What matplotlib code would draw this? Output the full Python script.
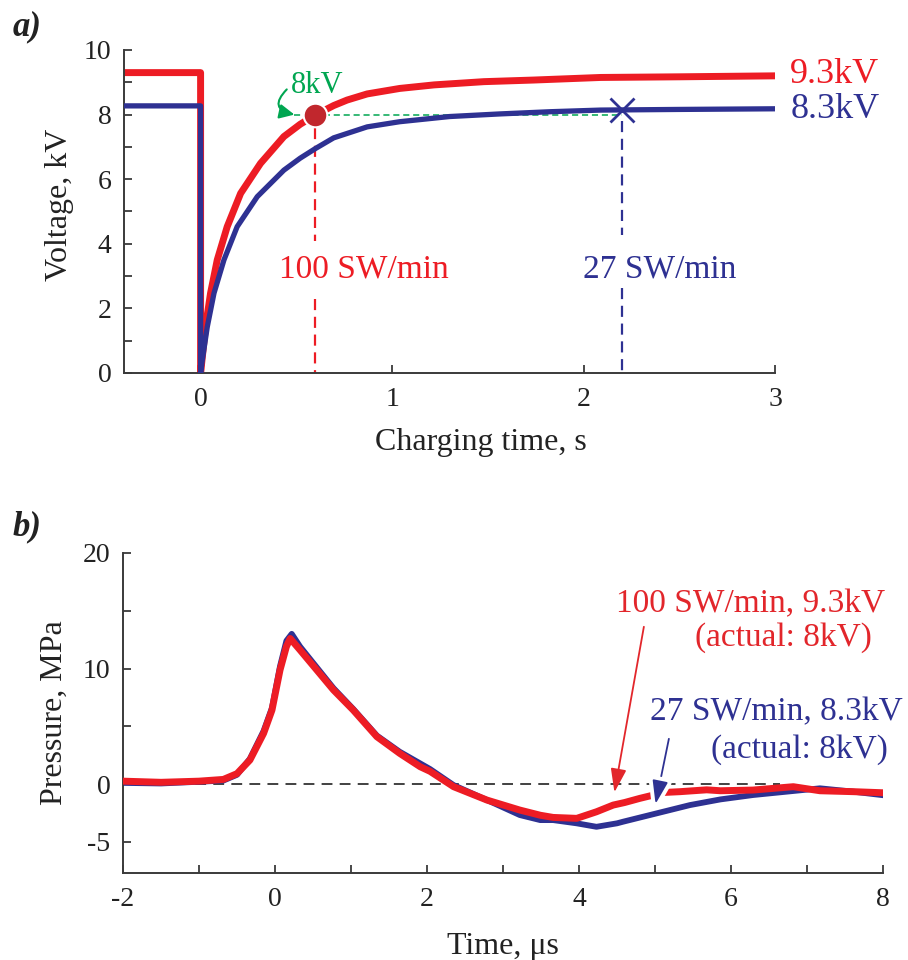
import matplotlib
matplotlib.use("Agg")
import matplotlib.pyplot as plt
import matplotlib.patheffects as pe

plt.rcParams['font.family'] = ['Liberation Serif', 'DejaVu Serif']
plt.rcParams['mathtext.fontset'] = 'stix'

RED = '#ED1C24'
BLUE = '#2E3192'
GREEN = '#00A651'
DARKRED = '#C1272D'
TXTRED = '#E2262B'

# ---------------- Panel a data (charging voltage) ----------------
red_t = [-0.4, 0.0, 0.0, 0.026, 0.052, 0.087, 0.139, 0.209, 0.313, 0.435, 0.52, 0.6, 0.695, 0.765, 0.87,
         1.04, 1.22, 1.48, 1.74, 2.09, 2.5, 3.0]
red_v = [9.3, 9.3, 0.0, 1.43, 2.47, 3.5, 4.53, 5.56, 6.49, 7.32, 7.7, 7.99, 8.28, 8.45, 8.64,
         8.81, 8.92, 9.02, 9.07, 9.15, 9.17, 9.2]
blue_t = [-0.4, 0.0, 0.0, 0.009, 0.035, 0.07, 0.122, 0.191, 0.296, 0.435, 0.52, 0.6, 0.695, 0.87,
          1.04, 1.3, 1.56, 1.83, 2.09, 2.5, 3.0]
blue_v = [8.27, 8.27, 0.0, 0.4, 1.43, 2.47, 3.5, 4.53, 5.46, 6.28, 6.65, 6.95, 7.28, 7.62,
          7.78, 7.94, 8.02, 8.09, 8.14, 8.16, 8.18]
red_mark = (0.6, 8.0)
blue_mark = (2.2, 8.14)
a_xticks = [0, 1, 2, 3]
a_yticks = [0, 2, 4, 6, 8, 10]

# ---------------- Panel b data (pressure) ----------------
pr_t = [-2.0, -1.5, -1.0, -0.68, -0.5, -0.33, -0.15, -0.04, 0.066, 0.15, 0.2, 0.33, 0.55, 0.77, 1.03, 1.34,
        1.64, 1.91, 2.04, 2.35, 2.79, 3.22, 3.49, 3.66, 3.97, 4.23, 4.45, 4.6, 4.8, 4.95, 5.05, 5.33, 5.68,
        5.86, 6.29, 6.82, 7.17, 7.61, 7.98]
pr_v = [0.25, 0.15, 0.25, 0.4, 0.9, 2.08, 4.39, 6.4, 9.87, 11.9, 12.6, 11.6, 9.87, 8.14, 6.4, 4.1,
        2.66, 1.5, 1.1, -0.23, -1.39, -2.25, -2.7, -2.89, -2.97, -2.4, -1.82, -1.6, -1.24, -1.0, -0.75, -0.66, -0.5,
        -0.58, -0.52, -0.23, -0.58, -0.66, -0.75]
pb_t = [-2.0, -1.5, -1.0, -0.68, -0.5, -0.33, -0.15, -0.04, 0.066, 0.15, 0.22, 0.33, 0.55, 0.77, 1.03, 1.34,
        1.64, 2.04, 2.35, 2.79, 3.22, 3.49, 3.66, 3.97, 4.23, 4.5, 4.58, 5.02, 5.46, 5.86, 6.29, 6.73, 7.17, 7.61, 7.98]
pb_v = [0.1, 0.05, 0.2, 0.3, 0.8, 2.2, 4.6, 6.6, 10.2, 12.4, 13.0, 11.9, 10.1, 8.3, 6.5, 4.2,
        2.8, 1.3, -0.09, -1.39, -2.68, -3.12, -3.12, -3.4, -3.7, -3.4, -3.26, -2.54, -1.82, -1.33, -0.95, -0.66, -0.37, -0.66, -0.95]
b_xticks = [-2, 0, 2, 4, 6, 8]
b_yticks = [-5, 0, 10, 20]

W, H = 908, 960
fig = plt.figure(figsize=(W / 100, H / 100), dpi=100)


def box(l, t, r, b):
    return [l / W, 1 - b / H, (r - l) / W, (b - t) / H]


def style(ax):
    for s in ('top', 'right'):
        ax.spines[s].set_visible(False)
    for s in ('left', 'bottom'):
        ax.spines[s].set_color('#3a3a3a')
        ax.spines[s].set_linewidth(1.4)
    ax.tick_params(which='both', direction='in', colors='#3a3a3a', labelcolor='#222222',
                   labelsize=20, width=1.3)
    ax.tick_params(which='major', length=6)
    ax.tick_params(which='minor', length=6)
    ax.tick_params(axis='y', pad=9)
    ax.tick_params(axis='x', pad=10)


# ================= Panel a =================
ax1 = fig.add_axes(box(124, 50, 775, 373))
style(ax1)
ax1.set_xlim(-0.4, 3.0)
ax1.set_ylim(0, 10)
ax1.set_xticks(a_xticks)
ax1.set_yticks(a_yticks)
ax1.set_yticks([1, 3, 5, 7, 9], minor=True)

ax1.plot(blue_t, blue_v, color=BLUE, lw=3.8, solid_joinstyle='round', zorder=3)
ax1.plot(red_t, red_v, color=RED, lw=5.0, solid_joinstyle='round', zorder=2)

# green 8 kV reference line
ax1.plot([0.49, blue_mark[0]], [8.0, 8.0], color=GREEN, lw=1.1, ls=(0, (4, 2.5)), zorder=1)
ax1.annotate('', xy=(0.49, 8.0), xytext=(0.45, 8.78),
             arrowprops=dict(arrowstyle='-|>,head_length=0.45,head_width=0.22', color=GREEN, lw=1.5,
                             connectionstyle='arc3,rad=0.9', mutation_scale=20, shrinkA=0, shrinkB=0))
ax1.text(0.47, 8.9, '8kV', color=GREEN, fontsize=22, ha='left', va='center')

# vertical dashed markers
ax1.plot([red_mark[0]] * 2, [7.6, 4.1], color=RED, lw=1.6, ls=(0, (5, 3)), zorder=1)
ax1.plot([red_mark[0]] * 2, [2.3, 0.0], color=RED, lw=1.6, ls=(0, (5, 3)), zorder=1, clip_on=False)
ax1.plot([blue_mark[0]] * 2, [7.8, 4.27], color=BLUE, lw=1.6, ls=(0, (5, 3)), zorder=1)
ax1.plot([blue_mark[0]] * 2, [2.63, 0.0], color=BLUE, lw=1.6, ls=(0, (5, 3)), zorder=1, clip_on=False)

ax1.plot([red_mark[0]], [red_mark[1]], 'o', ms=17, color=DARKRED, mec='white', mew=1.5, zorder=5)
ax1.plot([blue_mark[0]], [blue_mark[1]], 'x', ms=17, color=BLUE, mew=2.0, zorder=5)

ax1.text(0.855, 3.2, '100 SW/min', color=RED, fontsize=24, ha='center', va='center')
ax1.text(2.4, 3.2, '27 SW/min', color=BLUE, fontsize=24, ha='center', va='center')
ax1.text(3.08, 9.25, '9.3kV', color=RED, fontsize=26, ha='left', va='center', clip_on=False)
ax1.text(3.08, 8.15, '8.3kV', color=BLUE, fontsize=26, ha='left', va='center', clip_on=False)

ax1.set_xlabel('Charging time, s', fontsize=23, color='#222222')
ax1.xaxis.set_label_coords((481 - 124) / 651, -0.17)
ax1.set_ylabel('Voltage, kV', fontsize=23, color='#222222')
ax1.yaxis.set_label_coords(-0.077, 0.52)
fig.text(13 / W, 1 - 27 / H, 'a)', fontsize=25, fontweight='bold', fontstyle='italic',
         ha='left', va='center', color='#222222')

# ================= Panel b =================
ax2 = fig.add_axes(box(123, 553, 883, 873))
style(ax2)
ax2.set_xlim(-2, 8)
ax2.set_ylim(-7.7, 20)
ax2.set_xticks(b_xticks)
ax2.set_xticks([-1, 1, 3, 5, 7], minor=True)
ax2.set_yticks(b_yticks)
ax2.set_yticks([5, 15], minor=True)
ax2.set_yticklabels(['-5', '0', '10', '20'])
ax2.set_xticklabels(['-2', '0', '2', '4', '6', '8'])

ax2.plot([-2, 6.65], [0, 0], color='#333333', lw=1.3, ls=(0, (6, 4)), zorder=1)
ax2.plot(pb_t, pb_v, color=BLUE, lw=4.2, solid_joinstyle='round', zorder=2)
ax2.plot(pr_t, pr_v, color=RED, lw=5.0, solid_joinstyle='round', zorder=3)

a_red = ax2.annotate('', xy=(4.46, -0.95), xytext=(4.86, 13.85),
                     arrowprops=dict(arrowstyle='-|>,head_length=0.9,head_width=0.3', color=TXTRED, lw=1.3,
                                     mutation_scale=16))
a_red.arrow_patch.set_zorder(4)
a_blue = ax2.annotate('', xy=(5.0, -1.96), xytext=(5.19, 4.15),
                      arrowprops=dict(arrowstyle='-|>,head_length=0.9,head_width=0.3', color=BLUE, lw=1.3,
                                      mutation_scale=16))
a_blue.arrow_patch.set_zorder(5)
a_blue.arrow_patch.set_path_effects([pe.Stroke(linewidth=7, foreground='white'), pe.Normal()])

ax2.text(8.03, 15.6, '100 SW/min, 9.3kV', color=TXTRED, fontsize=24, ha='right', va='center', clip_on=False)
ax2.text(7.86, 12.7, '(actual: 8kV)', color=TXTRED, fontsize=24, ha='right', va='center', clip_on=False)
ax2.text(8.26, 6.2, '27 SW/min, 8.3kV', color=BLUE, fontsize=24, ha='right', va='center', clip_on=False)
ax2.text(8.07, 3.0, '(actual: 8kV)', color=BLUE, fontsize=24, ha='right', va='center', clip_on=False)

ax2.set_xlabel('Time, μs', fontsize=23, color='#222222')
ax2.xaxis.set_label_coords(0.5, -0.185)
ax2.set_ylabel('Pressure, MPa', fontsize=23, color='#222222')
ax2.yaxis.set_label_coords(-0.071, 0.5)
fig.text(13 / W, 1 - 527 / H, 'b)', fontsize=25, fontweight='bold', fontstyle='italic',
         ha='left', va='center', color='#222222')

fig.savefig('out.png', dpi=100)
